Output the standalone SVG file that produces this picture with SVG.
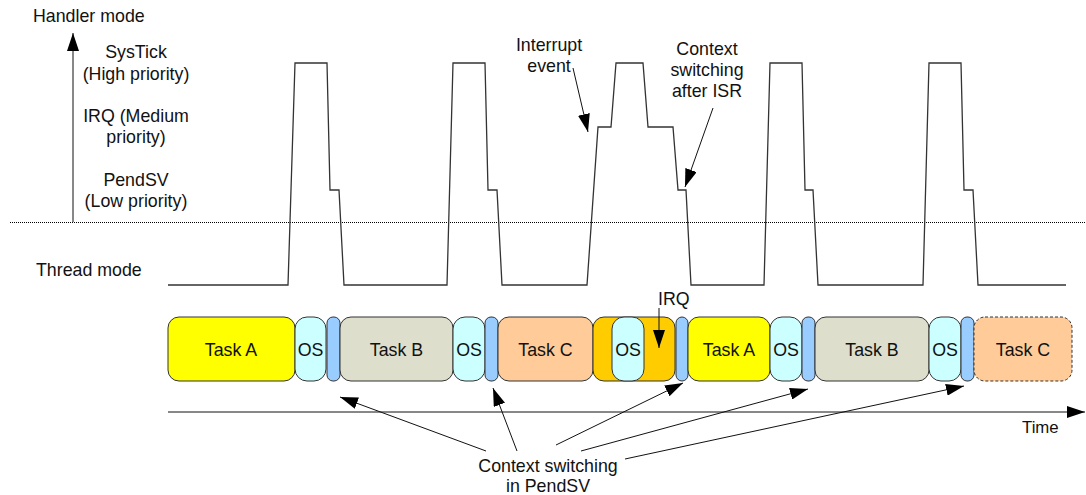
<svg xmlns="http://www.w3.org/2000/svg" width="1086" height="495" viewBox="0 0 1086 495">
<style>
text{font-family:"Liberation Sans",Arial,sans-serif;font-size:17.8px;fill:#111}
.c{text-anchor:middle}
.sm{font-size:16.8px}
.box{stroke:#333;stroke-width:1}
.ta{fill:#FFFF00}.tb{fill:#DDDFCC}.tc{fill:#FFCC99}.os{fill:#CCFFFF}.sv{fill:#99CCFF}.irq{fill:#FFCC00}
.ln{fill:none;stroke:#111;stroke-width:1}
.wave{fill:none;stroke:#333;stroke-width:1.3;stroke-linejoin:miter}
</style>
<defs>
<marker id="ah" viewBox="0 0 18 12" refX="18" refY="6" markerWidth="18" markerHeight="12" orient="auto" markerUnits="userSpaceOnUse"><path d="M0,0 L18,6 L0,12 z" fill="#000"/></marker>
</defs>
<rect width="1086" height="495" fill="#fff"/>
<g id="labels">
<text x="33" y="22">Handler mode</text>
<text class="c" x="136" y="58">SysTick</text>
<text class="c" x="136" y="80">(High priority)</text>
<text class="c" x="136" y="122">IRQ (Medium</text>
<text class="c" x="136" y="143">priority)</text>
<text class="c" x="136" y="186">PendSV</text>
<text class="c" x="136" y="207">(Low priority)</text>
<text x="36" y="276">Thread mode</text>
<text class="c" x="549" y="51">Interrupt</text>
<text class="c" x="549" y="72">event</text>
<text class="c" x="707" y="55">Context</text>
<text class="c" x="707" y="76">switching</text>
<text class="c" x="707" y="97">after ISR</text>
<text x="658" y="305">IRQ</text>
<text class="sm" x="1022" y="433">Time</text>
<text class="c" x="548" y="472">Context switching</text>
<text class="c" x="548" y="492">in PendSV</text>
</g>
<g id="divider">
<line x1="10" y1="222.5" x2="1086" y2="222.5" stroke="#000" stroke-width="1" stroke-dasharray="1,1"/>
</g>
<g id="waveform">
<polyline class="wave" points="168,285 288,285 295,63 327,63 330,190 339,190 344,285 447,285 453,63 485,63 488,190 497,190 502,285 587,285 598,127 611,127 616,63 643,63 648,127 673,127 678,190 686,190 691,285 764,285 770,63 802,63 805,190 813,190 818,285 923,285 929,63 961,63 964,190 973,190 978,285 1066,285"/>
</g>
<g id="taskA1"><rect class="box ta" x="168" y="317" width="127" height="64" rx="11"/><text class="c" x="231" y="356">Task A</text></g>
<g id="os1"><rect class="box os" x="295" y="317" width="31" height="64" rx="12"/><text class="c" x="310.5" y="356">OS</text></g>
<g id="sv1"><rect class="box sv" x="327" y="317" width="13" height="64" rx="6"/></g>
<g id="taskB1"><rect class="box tb" x="340" y="317" width="113" height="64" rx="11"/><text class="c" x="396.5" y="356">Task B</text></g>
<g id="os2"><rect class="box os" x="453" y="317" width="32" height="64" rx="12"/><text class="c" x="469" y="356">OS</text></g>
<g id="sv2"><rect class="box sv" x="485" y="317" width="13" height="64" rx="6"/></g>
<g id="taskC1"><rect class="box tc" x="498" y="317" width="95" height="64" rx="11"/><text class="c" x="545.5" y="356">Task C</text></g>
<g id="irq"><rect class="box irq" x="593" y="317" width="82" height="64" rx="11"/></g>
<g id="os3"><rect class="box os" x="612" y="317" width="32" height="64" rx="12"/><text class="c" x="628" y="356">OS</text></g>
<g id="sv3"><rect class="box sv" x="676" y="317" width="12" height="64" rx="6"/></g>
<g id="taskA2"><rect class="box ta" x="688" y="317" width="82" height="64" rx="11"/><text class="c" x="729" y="356">Task A</text></g>
<g id="os4"><rect class="box os" x="770" y="317" width="32" height="64" rx="12"/><text class="c" x="786" y="356">OS</text></g>
<g id="sv4"><rect class="box sv" x="802" y="317" width="13" height="64" rx="6"/></g>
<g id="taskB2"><rect class="box tb" x="815" y="317" width="114" height="64" rx="11"/><text class="c" x="872" y="356">Task B</text></g>
<g id="os5"><rect class="box os" x="929" y="317" width="32" height="64" rx="12"/><text class="c" x="945" y="356">OS</text></g>
<g id="sv5"><rect class="box sv" x="961" y="317" width="13" height="64" rx="6"/></g>
<g id="taskC2"><rect class="box tc" x="974" y="317" width="98" height="64" rx="11" stroke-dasharray="3,2"/><text class="c" x="1023" y="356">Task C</text></g>
<g id="connectors">
<line class="ln" x1="73" y1="222" x2="73" y2="33" marker-end="url(#ah)"/>
<line class="ln" x1="168" y1="412" x2="1085" y2="412" marker-end="url(#ah)"/>
<line class="ln" x1="573" y1="68" x2="588" y2="132" marker-end="url(#ah)"/>
<line class="ln" x1="713" y1="108" x2="685" y2="187" marker-end="url(#ah)"/>
<line class="ln" x1="659" y1="308" x2="659" y2="348" marker-end="url(#ah)"/>
<line class="ln" x1="486" y1="451" x2="340" y2="397" marker-end="url(#ah)"/>
<line class="ln" x1="517" y1="451" x2="493" y2="388" marker-end="url(#ah)"/>
<line class="ln" x1="556" y1="445" x2="683" y2="383" marker-end="url(#ah)"/>
<line class="ln" x1="581" y1="451" x2="808" y2="389" marker-end="url(#ah)"/>
<line class="ln" x1="625" y1="459" x2="964" y2="386" marker-end="url(#ah)"/>
</g>
</svg>
